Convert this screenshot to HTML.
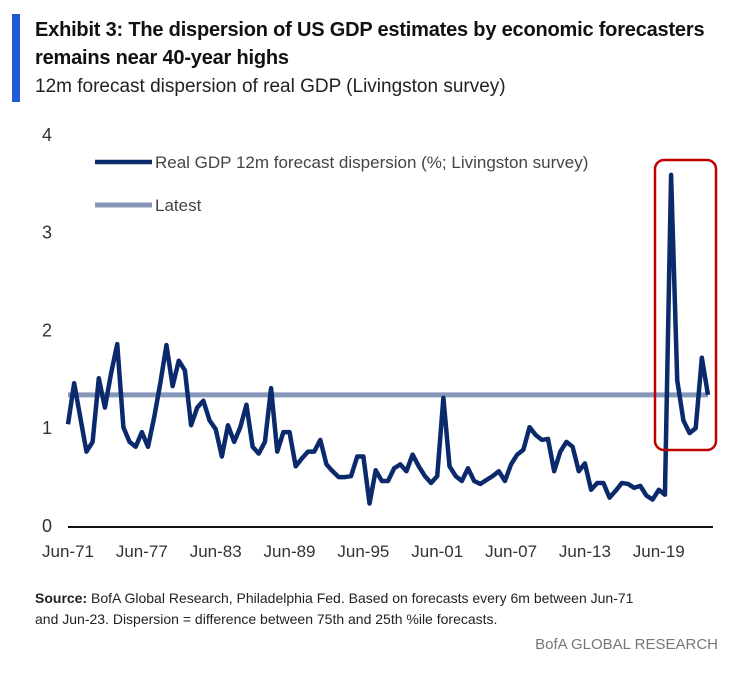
<!DOCTYPE html>
<html><head><meta charset="utf-8"><style>
body{margin:0;background:#fff;width:736px;height:677px;overflow:hidden;font-family:"Liberation Sans",sans-serif;}
</style></head><body>
<div style="position:absolute;left:12px;top:14px;width:8px;height:88px;background:#1F5BD6"></div>
<div style="position:absolute;left:35px;top:16px;font-size:20px;font-weight:bold;color:#111;line-height:28px;width:700px;letter-spacing:-0.2px">Exhibit 3: The dispersion of US GDP estimates by economic forecasters remains near 40-year highs</div>
<div style="position:absolute;left:35px;top:76px;font-size:19px;color:#222">12m forecast dispersion of real GDP (Livingston survey)</div>
<svg id="chart" width="736" height="677" style="position:absolute;left:0;top:0"></svg>
<div style="position:absolute;left:35px;top:588px;font-size:14px;color:#222;line-height:21px;width:700px;white-space:nowrap"><b>Source:</b> BofA Global Research, Philadelphia Fed. Based on forecasts every 6m between Jun-71<br>and Jun-23. Dispersion = difference between 75th and 25th %ile forecasts.</div>
<div style="position:absolute;right:18px;top:636px;font-size:15px;color:#777">BofA GLOBAL RESEARCH</div>
<script>
const values=[1.03,1.45,1.1,0.75,0.85,1.5,1.2,1.55,1.85,1.0,0.85,0.8,0.95,0.8,1.1,1.45,1.84,1.42,1.68,1.58,1.02,1.2,1.27,1.07,0.98,0.7,1.02,0.85,1.0,1.23,0.8,0.73,0.85,1.4,0.75,0.95,0.95,0.6,0.68,0.75,0.75,0.87,0.62,0.55,0.49,0.49,0.5,0.7,0.7,0.22,0.56,0.45,0.45,0.58,0.62,0.55,0.72,0.6,0.5,0.43,0.5,1.3,0.6,0.5,0.45,0.58,0.45,0.42,0.46,0.5,0.55,0.45,0.62,0.72,0.77,1.0,0.92,0.87,0.88,0.55,0.75,0.85,0.8,0.55,0.63,0.36,0.43,0.43,0.28,0.35,0.43,0.42,0.38,0.4,0.3,0.26,0.36,0.31,3.58,1.48,1.07,0.94,0.99,1.71,1.33];
const latest=[1.33];
const xTicks=["Jun-71","Jun-77","Jun-83","Jun-89","Jun-95","Jun-01","Jun-07","Jun-13","Jun-19"];
const xTickIdx=[0,12,24,36,48,60,72,84,96];
const yTicks=[0,1,2,3,4];
const svg=document.getElementById('chart');const NS='http://www.w3.org/2000/svg';
const x0=68,x1=708,y0=525,ppu=97.8;
const X=i=>x0+(x1-x0)*i/(values.length-1);
const Y=v=>y0-v*ppu;
function mk(t,a){const e=document.createElementNS(NS,t);for(const k in a)e.setAttribute(k,a[k]);svg.appendChild(e);return e;}
yTicks.forEach(t=>{const e=mk('text',{x:42,y:Y(t)+7,'font-size':18,fill:'#333','font-family':'Liberation Sans, sans-serif'});e.textContent=t;

});
const ax=mk('line',{x1:x0,x2:713,y1:y0+2,y2:y0+2,stroke:'#111','stroke-width':2});


xTicks.forEach((t,k)=>{const e=mk('text',{x:X(xTickIdx[k]),y:557,'font-size':17,fill:'#333','text-anchor':'middle','font-family':'Liberation Sans, sans-serif'});e.textContent=t;

});
const ll=mk('line',{x1:x0,x2:x1,y1:Y(latest[0]),y2:Y(latest[0]),stroke:'#8797BA','stroke-width':5});


const p=mk('polyline',{points:values.map((v,i)=>X(i)+','+Y(v)).join(' '),fill:'none',stroke:'#0B2A6B','stroke-width':4.5,'stroke-linejoin':'round'});


const rb=mk('rect',{x:655,y:160,width:61,height:290,rx:9,fill:'none',stroke:'#C00000','stroke-width':2.5});


[['Real GDP 12m forecast dispersion (%; Livingston survey)','#0B2A6B',162,4.5],['Latest','#8797BA',205,5]].forEach(l=>{
const g=mk('g',{});


const a=document.createElementNS(NS,'line');a.setAttribute('x1',95);a.setAttribute('x2',152);a.setAttribute('y1',l[2]);a.setAttribute('y2',l[2]);a.setAttribute('stroke',l[1]);a.setAttribute('stroke-width',l[3]);g.appendChild(a);
const t=document.createElementNS(NS,'text');t.setAttribute('x',155);t.setAttribute('y',l[2]+6);t.setAttribute('font-size',17);t.setAttribute('fill','#444');t.setAttribute('font-family','Liberation Sans, sans-serif');t.textContent=l[0];g.appendChild(t);});
</script>
</body></html>
